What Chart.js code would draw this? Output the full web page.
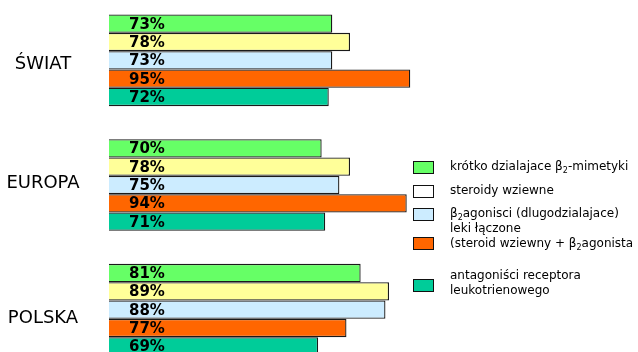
<!DOCTYPE html>
<html>
<head>
<meta charset="utf-8">
<script src="https://cdn.jsdelivr.net/npm/chart.js@4.4.0/dist/chart.umd.min.js"></script>
<style>
  html, body { margin: 0; padding: 0; background: #fff; overflow: hidden; width: 638px; height: 352px; }
  #wrap { position: absolute; left: 0; top: -2px; width: 638px; height: 374px; }
  #legend { position: absolute; left: 413px; top: 0; width: 225px; height: 352px; overflow: hidden;
            font-family: "DejaVu Sans", sans-serif; font-size: 12px; color: #000; }
  .box { position: absolute; left: 0; width: 19px; height: 11px; border: 1px solid #111; }
  .txt { position: absolute; left: 37px; line-height: 15px; white-space: nowrap; }
  sub { font-size: 8px; vertical-align: -3px; line-height: 0; }
</style>
</head>
<body>
<div id="wrap"><canvas id="barChart"></canvas></div>
<div id="legend"></div>
<script>
    'use strict';

    // categories (top to bottom)
    var regions = ['ŚWIAT', 'EUROPA', 'POLSKA'];

    // series values, %
    var krotkoDzialajace = [73, 70, 81];
    var steroidyWziewne = [78, 78, 89];
    var agonisciDlugo = [73, 75, 88];
    var lekiLaczone = [95, 94, 77];
    var antagonisci = [72, 71, 69];

    var seriesNames = [
        'krótko dzialajace β<sub>2</sub>-mimetyki',
        'steroidy wziewne',
        'β<sub>2</sub>agonisci (dlugodzialajace)',
        'leki łączone<br>(steroid wziewny + β<sub>2</sub>agonista',
        'antagoniści receptora<br>leukotrienowego'
    ];
    var barColors = ['#66FF66', '#FFFF99', '#CCECFF', '#FF6600', '#00CC99'];
    var legendColors = ['#66FF66', '#FFFFFF', '#CCECFF', '#FF6600', '#00CC99'];

    // small vertical nudges of the region names (px)
    var labelShift = [2, -4, 7];

    var allSeries = [krotkoDzialajace, steroidyWziewne, agonisciDlugo, lekiLaczone, antagonisci];

    var chartData = {
        labels: regions,
        datasets: allSeries.map(function (vals, i) {
            return {
                label: seriesNames[i],
                data: vals,
                backgroundColor: barColors[i],
                borderColor: '#1a1a1a',
                borderWidth: 1.3,
                borderSkipped: false,
                categoryPercentage: 0.735,
                barPercentage: 1.0
            };
        })
    };

    // value labels inside bars + region names on the left
    var textLabels = {
        id: 'textLabels',
        afterDatasetsDraw: function (chart) {
            var ctx = chart.ctx;
            var yScale = chart.scales.y;
            ctx.save();
            ctx.font = 'bold 15px "DejaVu Sans", sans-serif';
            ctx.fillStyle = '#000';
            ctx.textAlign = 'left';
            ctx.textBaseline = 'middle';
            chart.data.datasets.forEach(function (ds, i) {
                chart.getDatasetMeta(i).data.forEach(function (bar, j) {
                    ctx.fillText(ds.data[j] + '%', chart.chartArea.left + 20, bar.y + 1);
                });
            });
            ctx.font = '18px "DejaVu Sans", sans-serif';
            ctx.textAlign = 'center';
            regions.forEach(function (r, j) {
                ctx.fillText(r, 43, yScale.getPixelForValue(j) + 2 + labelShift[j]);
            });
            ctx.restore();
        }
    };

    var barCanvas = document.getElementById('barChart').getContext('2d');
    var barChart = new Chart(barCanvas, {
        type: 'bar',
        data: chartData,
        plugins: [textLabels],
        options: {
            indexAxis: 'y',
            responsive: true,
            maintainAspectRatio: false,
            animation: false,
            layout: { padding: { left: 109, right: 210, top: 0, bottom: 0 } },
            plugins: {
                legend: { display: false },
                tooltip: { enabled: false }
            },
            scales: {
                x: { display: false, min: 10, max: 100 },
                y: { display: false }
            }
        }
    });

    // legend (html, for subscripts)
    var legendRows = [
        { box: 161, txt: 159 },
        { box: 185, txt: 183 },
        { box: 208, txt: 206 },
        { box: 237, txt: 221 },
        { box: 279, txt: 268 }
    ];
    var legendEl = document.getElementById('legend');
    legendRows.forEach(function (r, i) {
        var box = document.createElement('div');
        box.className = 'box';
        box.style.top = r.box + 'px';
        box.style.background = legendColors[i];
        legendEl.appendChild(box);
        var t = document.createElement('div');
        t.className = 'txt';
        t.style.top = r.txt + 'px';
        t.innerHTML = seriesNames[i];
        legendEl.appendChild(t);
    });
</script>
</body>
</html>
